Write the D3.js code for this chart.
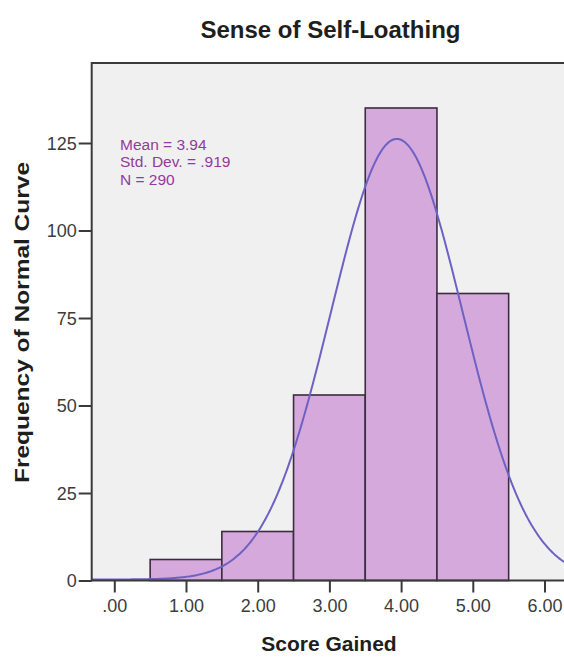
<!DOCTYPE html>
<html>
<head>
<meta charset="utf-8">
<script src="https://cdn.jsdelivr.net/npm/d3@7.8.5/dist/d3.min.js"></script>
<style>
  html, body { margin: 0; padding: 0; background: #fff; }
  svg { display: block; font-family: "Liberation Sans", Arial, sans-serif; }
</style>
</head>
<body>
<div id="chart"></div>
<script>
// histogram bins (lower edge) and counts
const binStarts = [0.5, 1.5, 2.5, 3.5, 4.5];
const binCounts = [6, 14, 53, 135, 82];
const binWidth = 1;

// summary shown in the legend box, also drives the normal curve
const mean = 3.94;
const stdDev = 0.919;
const n = 290;

const xTicks = [0, 1, 2, 3, 4, 5, 6];
const xTickLabels = [".00", "1.00", "2.00", "3.00", "4.00", "5.00", "6.00"];
const yTicks = [0, 25, 50, 75, 100, 125];
const statLines = ["Mean = 3.94", "Std. Dev. = .919", "N = 290"];

const width = 564;
const height = 657;
const plot = { left: 91.7, top: 63, bottom: 580.5 };

const svg = d3.select("#chart")
  .append("svg")
  .attr("width", width)
  .attr("height", height);

const x = d3.scaleLinear().domain([0, 6]).range([114.3, 544.5]);
const y = d3.scaleLinear().domain([0, 125]).range([plot.bottom, 143]);

const xLo = x.invert(plot.left);
const xHi = 6.8;

// plot background
svg.append("rect")
  .attr("x", plot.left)
  .attr("y", plot.top)
  .attr("width", x(xHi) - plot.left)
  .attr("height", plot.bottom - plot.top)
  .attr("fill", "#f0f0f0");

svg.append("clipPath")
  .attr("id", "plot-clip")
  .append("rect")
  .attr("x", plot.left)
  .attr("y", plot.top)
  .attr("width", x(xHi) - plot.left)
  .attr("height", plot.bottom - plot.top);

const bins = binStarts.map((s, i) => ({ x0: s, x1: s + binWidth, count: binCounts[i] }));

svg.append("g")
  .selectAll("rect")
  .data(bins)
  .enter()
  .append("rect")
  .attr("x", (d) => x(d.x0))
  .attr("y", (d) => y(d.count))
  .attr("width", (d) => x(d.x1) - x(d.x0))
  .attr("height", (d) => y(0) - y(d.count))
  .attr("fill", "#d6a9dc")
  .attr("stroke", "#3b2c3f")
  .attr("stroke-width", 1.6);

// normal curve scaled to the histogram (N * bin width * density)
const normal = (v) =>
  (n * binWidth) / (stdDev * Math.sqrt(2 * Math.PI)) *
  Math.exp(-((v - mean) ** 2) / (2 * stdDev * stdDev));

const curveXs = d3.range(xLo, xHi, 0.02);

svg.append("path")
  .datum(curveXs)
  .attr("clip-path", "url(#plot-clip)")
  .attr("fill", "none")
  .attr("stroke", "#6e61c4")
  .attr("stroke-width", 2)
  .attr("d", d3.line().x((d) => x(d)).y((d) => y(normal(d)) - 1).curve(d3.curveBasis));

// frame
svg.append("path")
  .attr("fill", "none")
  .attr("stroke", "#3a3a3a")
  .attr("stroke-width", 2)
  .attr("d", `M${x(xHi)},${plot.top}H${plot.left}V${plot.bottom}H${x(xHi)}`);

// axes
const xAxis = svg.append("g")
  .attr("transform", `translate(0, ${plot.bottom})`)
  .call(
    d3.axisBottom(x)
      .tickValues(xTicks)
      .tickSize(12)
      .tickPadding(7)
      .tickFormat((d, i) => xTickLabels[i]),
  );

const yAxis = svg.append("g")
  .attr("transform", `translate(${plot.left}, 0)`)
  .call(d3.axisLeft(y).tickValues(yTicks).tickSize(13).tickPadding(2));

svg.selectAll(".domain").remove();
svg.selectAll(".tick line").attr("stroke", "#3a3a3a").attr("stroke-width", 2);
svg.selectAll(".tick text")
  .attr("fill", "#3c3c3c")
  .style("font-size", "18px")
  .style("font-family", "'Liberation Sans', Arial, sans-serif");
yAxis.selectAll(".tick text").attr("dy", "0.36em");

// stats box text
const stats = svg.append("text")
  .attr("fill", "#923a9e")
  .style("font-family", "'Liberation Sans', Arial, sans-serif")
  .style("font-size", "15.5px");
statLines.forEach((line, i) => {
  stats.append("tspan")
    .attr("x", 120)
    .attr("y", 150 + i * 17.3)
    .text(line);
});

// titles
svg.append("text")
  .attr("x", 330.5)
  .attr("y", 38)
  .attr("text-anchor", "middle")
  .attr("fill", "#1e1e1e")
  .style("font-weight", "bold")
  .style("font-size", "24px")
  .text("Sense of Self-Loathing");

svg.append("text")
  .attr("transform", `translate(29, 322.5) rotate(-90)`)
  .attr("text-anchor", "middle")
  .attr("fill", "#1e1e1e")
  .style("font-weight", "bold")
  .style("font-size", "21px")
  .attr("textLength", 321)
  .attr("lengthAdjust", "spacingAndGlyphs")
  .text("Frequency of Normal Curve");

svg.append("text")
  .attr("x", 329)
  .attr("y", 651)
  .attr("text-anchor", "middle")
  .attr("fill", "#1e1e1e")
  .style("font-weight", "bold")
  .style("font-size", "21px")
  .text("Score Gained");
</script>
</body>
</html>
